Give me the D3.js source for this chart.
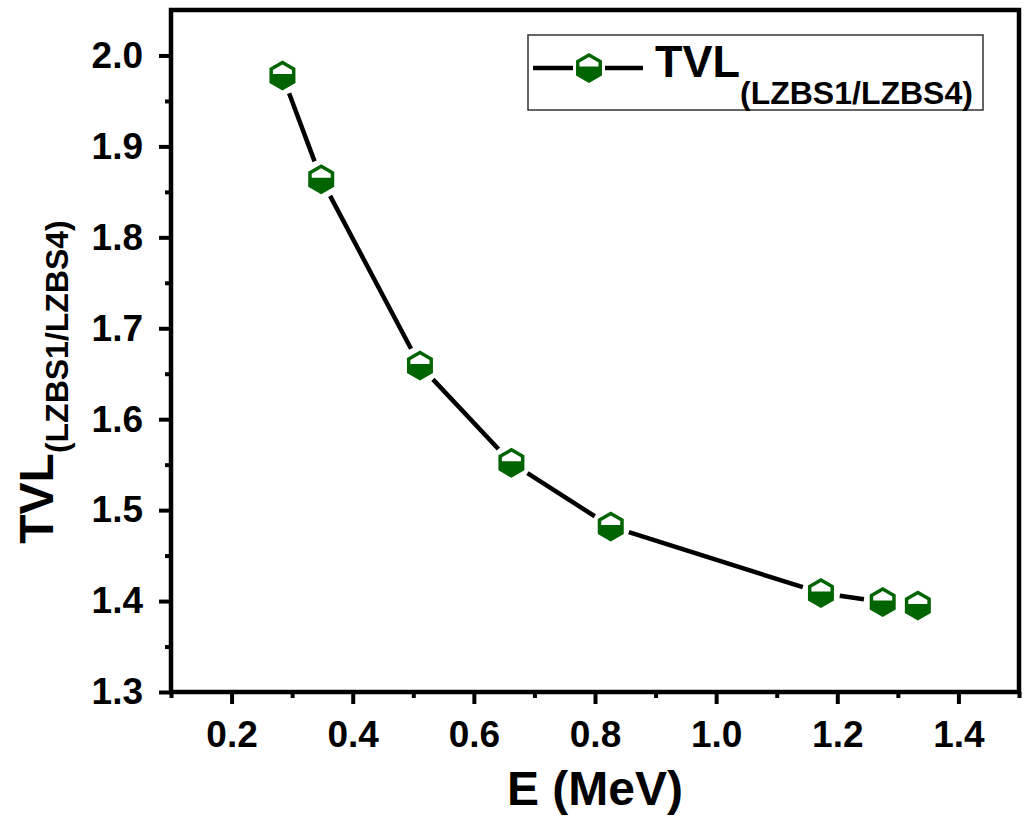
<!DOCTYPE html>
<html>
<head>
<meta charset="utf-8">
<script src="https://cdn.jsdelivr.net/npm/d3@7"></script>
<style>
    body { margin: 0; background: #fff; }
    text { font-family: "Liberation Sans", Arial, sans-serif; font-weight: bold; }
</style>
</head>
<body>
<svg id="chart" width="1026" height="818"></svg>
<script>
var energy = [0.284, 0.348, 0.511, 0.662, 0.826, 1.173, 1.275, 1.333];
var tvl = [1.978, 1.864, 1.659, 1.552, 1.482, 1.409, 1.399, 1.395];

var xTicks = [0.2, 0.4, 0.6, 0.8, 1.0, 1.2, 1.4];
var xMinorTicks = [0.1, 0.3, 0.5, 0.7, 0.9, 1.1, 1.3, 1.5];
var yTicks = [1.3, 1.4, 1.5, 1.6, 1.7, 1.8, 1.9, 2.0];
var yMinorTicks = [1.35, 1.45, 1.55, 1.65, 1.75, 1.85, 1.95];

var seriesName = "TVL";
var seriesSub = "(LZBS1/LZBS4)";
var xTitle = "E (MeV)";

var green = "#006400";

window.onload = function () {
    drawChart();
};

// pointy-top hexagon
function hexPoints(r) {
    var pts = [];
    for (var i = 0; i < 6; i++) {
        var a = -Math.PI / 2 + i * Math.PI / 3;
        pts.push([r * Math.cos(a), r * Math.sin(a)]);
    }
    return pts;
}

function drawMarker(sel, r) {
    sel.append("path")
        .attr("d", "M" + hexPoints(r).join("L") + "Z")
        .attr("fill", green);
    // white upper half inside the green border
    var h = hexPoints(r - 4);
    var cut = -1.5;
    var top = [h[5], h[0], h[1], [h[1][0], cut], [h[5][0], cut]];
    sel.append("path")
        .attr("d", "M" + top.join("L") + "Z")
        .attr("fill", "#fff");
}

function drawChart() {
    var svg = d3.select("#chart"),
        margin = {top: 10, right: 7, bottom: 126, left: 171},
        width = +svg.attr("width") - margin.left - margin.right,
        height = +svg.attr("height") - margin.top - margin.bottom;

    var x = d3.scaleLinear().domain([0.1, 1.5]).range([margin.left, margin.left + width]);
    var y = d3.scaleLinear().domain([1.3, 2.05]).range([margin.top + height, margin.top]);

    var fmt = d3.format(".1f");

    // minor ticks
    svg.append("g")
        .attr("transform", "translate(0," + y.range()[0] + ")")
        .call(d3.axisBottom(x).tickValues(xMinorTicks).tickSize(6).tickFormat(""))
        .call(function (g) { g.select(".domain").remove(); });
    svg.append("g")
        .attr("transform", "translate(" + x.range()[0] + ",0)")
        .call(d3.axisLeft(y).tickValues(yMinorTicks).tickSize(6).tickFormat(""))
        .call(function (g) { g.select(".domain").remove(); });

    // major ticks
    var gx = svg.append("g")
        .attr("transform", "translate(0," + y.range()[0] + ")")
        .call(d3.axisBottom(x).tickValues(xTicks).tickSize(12).tickPadding(17).tickFormat(fmt));
    var gy = svg.append("g")
        .attr("transform", "translate(" + x.range()[0] + ",0)")
        .call(d3.axisLeft(y).tickValues(yTicks).tickSize(12).tickPadding(16).tickFormat(fmt));

    [gx, gy].forEach(function (g) {
        g.select(".domain").remove();
        g.selectAll("text").attr("font-size", 37).attr("fill", "#000")
            .style("font-family", "'Liberation Sans', Arial, sans-serif").style("font-weight", "bold");
    });
    svg.selectAll(".tick line").attr("stroke", "#000").attr("stroke-width", 4);

    // frame
    svg.append("rect")
        .attr("x", x.range()[0])
        .attr("y", y.range()[1])
        .attr("width", width)
        .attr("height", height)
        .attr("fill", "none")
        .attr("stroke", "#000")
        .attr("stroke-width", 4.5);

    // line with gaps around markers
    var gap = 19;
    var pts = energy.map(function (e, i) { return [x(e), y(tvl[i])]; });
    for (var i = 0; i < pts.length - 1; i++) {
        var dx = pts[i + 1][0] - pts[i][0], dy = pts[i + 1][1] - pts[i][1];
        var len = Math.sqrt(dx * dx + dy * dy);
        if (len <= 2 * gap) continue;
        var ux = dx / len, uy = dy / len;
        svg.append("line")
            .attr("x1", pts[i][0] + ux * gap).attr("y1", pts[i][1] + uy * gap)
            .attr("x2", pts[i + 1][0] - ux * gap).attr("y2", pts[i + 1][1] - uy * gap)
            .attr("stroke", "#000")
            .attr("stroke-width", 4.5);
    }

    svg.selectAll("g.marker")
        .data(energy)
        .enter().append("g")
        .attr("class", "marker")
        .attr("transform", function (d, i) { return "translate(" + x(d) + "," + y(tvl[i]) + ")"; })
        .each(function () { drawMarker(d3.select(this), 15); });

    // axis titles
    svg.append("text")
        .attr("x", (x.range()[0] + x.range()[1]) / 2)
        .attr("y", 805)
        .attr("text-anchor", "middle")
        .attr("font-size", 48)
        .text(xTitle);

    var yt = svg.append("text")
        .attr("transform", "translate(53," + 382 + ") rotate(-90)")
        .attr("text-anchor", "middle")
        .attr("font-size", 48);
    yt.append("tspan").text(seriesName);
    yt.append("tspan").attr("dy", 15).attr("font-size", 32).text(seriesSub);

    // legend
    var lg = svg.append("g");
    lg.append("rect")
        .attr("x", 528).attr("y", 35)
        .attr("width", 455).attr("height", 75)
        .attr("fill", "#fff")
        .attr("stroke", "#333")
        .attr("stroke-width", 1.5);
    lg.append("line").attr("x1", 533).attr("x2", 573).attr("y1", 68).attr("y2", 68)
        .attr("stroke", "#000").attr("stroke-width", 4.5);
    lg.append("line").attr("x1", 605).attr("x2", 643).attr("y1", 68).attr("y2", 68)
        .attr("stroke", "#000").attr("stroke-width", 4.5);
    drawMarker(lg.append("g").attr("transform", "translate(589,68)"), 15);
    var lt = lg.append("text")
        .attr("x", 655)
        .attr("y", 77)
        .attr("font-size", 45);
    lt.append("tspan").text(seriesName);
    lt.append("tspan").attr("dy", 27).attr("font-size", 32).text(seriesSub);
}
</script>
</body>
</html>
